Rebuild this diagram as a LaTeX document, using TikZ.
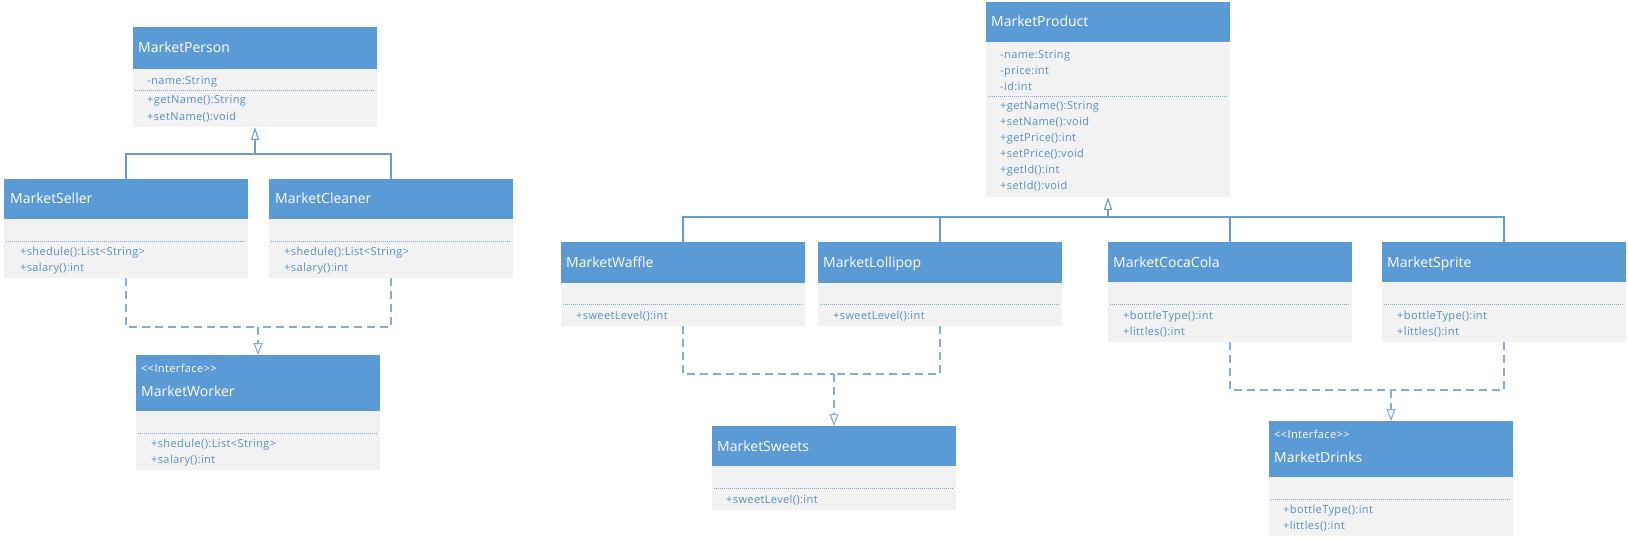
\documentclass[tikz,border=0pt]{standalone}
\usepackage{fontspec}
\setmainfont{Open Sans}
\newfontfamily\memfont[LetterSpace=3.5]{Open Sans}
\usetikzlibrary{arrows.meta}
\definecolor{hdrblue}{HTML}{5B9BD5}
\definecolor{bodygray}{HTML}{F2F2F2}
\definecolor{txtblue}{HTML}{5A8CC6}
\definecolor{lineblue}{HTML}{6A9ACB}
\definecolor{dashblue}{HTML}{86ABD5}
\definecolor{dotblue}{HTML}{7FA6D3}
\tikzset{
  hdr/.style={fill=hdrblue, draw=none, inner sep=0pt, outer sep=0pt, minimum width=244},
  bodyb/.style={fill=bodygray, draw=none, inner sep=0pt, outer sep=0pt, minimum width=244},
  ttl/.style={anchor=base west, inner sep=0pt, text=white, font=\fontsize{14}{16}\selectfont},
  stereo/.style={anchor=base west, inner sep=0pt, text=white, font=\memfont\fontsize{11}{13}\selectfont},
  mem/.style={anchor=base west, inner sep=0pt, text=txtblue, font=\memfont\fontsize{11}{13}\selectfont},
  dotline/.style={draw=dotblue, line width=0.7pt, dash pattern=on 1pt off 1pt},
  genline/.style={draw=lineblue, line width=1.2pt},
  genarrow/.style={genline, -{Triangle[open, length=13pt, width=8pt, line width=1.1pt]}},
  realline/.style={draw=dashblue, line width=1.4pt, dash pattern=on 8pt off 5pt},
  realarrow/.style={realline, -{Triangle[open, length=12pt, width=9pt, line width=1.1pt]}}
}
\newcommand\umlbox[5]{%
  \node[hdr, anchor=north west, minimum height={#4-#3}] (#1h) at (#2,#3) {};
  \node[bodyb, anchor=north west, minimum height={#5-#4}] (#1b) at (#1h.south west) {};
}
\begin{document}
\begin{tikzpicture}[x=1pt,y=-1pt]
\useasboundingbox (0,0) rectangle (1628,540);

% ---------------- left group ----------------
\umlbox{person}{133}{27}{69}{127}
\node[ttl] (personT) at (138,53) {MarketPerson};
\node[mem] (personA1) at (147,85) {-name:String};
\draw[dotline] (135,90) -- (375,90);
\node[mem] (personM1) at (147,104) {+getName():String};
\node[mem] (personM2) at (147,121) {+setName():void};

\umlbox{seller}{4}{179}{219}{278}
\node[ttl] (sellerT) at (10,204) {MarketSeller};
\draw[dotline] (6,241) -- (246,241);
\node[mem] (sellerM1) at (20,255) {+shedule():List{<}String{>}};
\node[mem] (sellerM2) at (20,271) {+salary():int};

\umlbox{cleaner}{269}{179}{219}{278}
\node[ttl] (cleanerT) at (275,204) {MarketCleaner};
\draw[dotline] (271,241) -- (511,241);
\node[mem] (cleanerM1) at (284,255) {+shedule():List{<}String{>}};
\node[mem] (cleanerM2) at (284,271) {+salary():int};

\umlbox{worker}{136}{355}{411}{470}
\node[stereo] (workerS) at (141,372) {{<}{<}Interface{>}{>}};
\node[ttl] (workerT) at (141,396) {MarketWorker};
\draw[dotline] (138,433) -- (378,433);
\node[mem] (workerM1) at (151,447) {+shedule():List{<}String{>}};
\node[mem] (workerM2) at (151,463) {+salary():int};

\coordinate (pj) at (255,154);
\draw[genline] (sellerh.north) |- (pj);
\draw[genline] (cleanerh.north) |- (pj);
\draw[genarrow] (pj) -- (personb.south);

\coordinate (wj) at (258,327);
\draw[realline] (sellerb.south) |- (wj);
\draw[realline] (cleanerb.south) |- (wj);
\draw[realarrow] (wj) -- (workerh.north);

% ---------------- product group ----------------
\umlbox{product}{986}{2}{42}{197}
\node[ttl] (productT) at (991,27) {MarketProduct};
\node[mem] (productA1) at (1000,59) {-name:String};
\node[mem] (productA2) at (1000,75) {-price:int};
\node[mem] (productA3) at (1000,91) {-id:int};
\draw[dotline] (988,96) -- (1228,96);
\node[mem] (productM1) at (1000,110) {+getName():String};
\node[mem] (productM2) at (1000,126) {+setName():void};
\node[mem] (productM3) at (1000,142) {+getPrice():int};
\node[mem] (productM4) at (1000,158) {+setPrice():void};
\node[mem] (productM5) at (1000,174) {+getId():int};
\node[mem] (productM6) at (1000,190) {+setId():void};

\umlbox{waffle}{561}{242}{283}{326}
\node[ttl] (waffleT) at (566,267) {MarketWaffle};
\draw[dotline] (563,304) -- (803,304);
\node[mem] (waffleM1) at (576,319) {+sweetLevel():int};

\umlbox{lolli}{818}{242}{283}{326}
\node[ttl] (lolliT) at (823,267) {MarketLollipop};
\draw[dotline] (820,304) -- (1060,304);
\node[mem] (lolliM1) at (833,319) {+sweetLevel():int};

\umlbox{coca}{1108}{242}{282}{342}
\node[ttl] (cocaT) at (1113,267) {MarketCocaCola};
\draw[dotline] (1110,304) -- (1350,304);
\node[mem] (cocaM1) at (1123,319) {+bottleType():int};
\node[mem] (cocaM2) at (1123,335) {+littles():int};

\umlbox{sprite}{1382}{242}{282}{342}
\node[ttl] (spriteT) at (1387,267) {MarketSprite};
\draw[dotline] (1384,304) -- (1624,304);
\node[mem] (spriteM1) at (1397,319) {+bottleType():int};
\node[mem] (spriteM2) at (1397,335) {+littles():int};

\umlbox{sweets}{712}{426}{466}{510}
\node[ttl] (sweetsT) at (717,451) {MarketSweets};
\draw[dotline] (714,488) -- (954,488);
\node[mem] (sweetsM1) at (726,503) {+sweetLevel():int};

\umlbox{drinks}{1269}{421}{477}{536}
\node[stereo] (drinksS) at (1274,438) {{<}{<}Interface{>}{>}};
\node[ttl] (drinksT) at (1274,462) {MarketDrinks};
\draw[dotline] (1271,499) -- (1511,499);
\node[mem] (drinksM1) at (1283,513) {+bottleType():int};
\node[mem] (drinksM2) at (1283,529) {+littles():int};

\coordinate (qj) at (1108,217);
\draw[genline] (waffleh.north) |- (qj);
\draw[genline] (lollih.north) |- (qj);
\draw[genline] (cocah.north) |- (qj);
\draw[genline] (spriteh.north) |- (qj);
\draw[genarrow] (qj) -- (productb.south);

\coordinate (sj) at (834,374);
\draw[realline] (waffleb.south) |- (sj);
\draw[realline] (lollib.south) |- (sj);
\draw[realarrow] (sj) -- (sweetsh.north);

\coordinate (dj) at (1391,390);
\draw[realline] (cocab.south) |- (dj);
\draw[realline] (spriteb.south) |- (dj);
\draw[realarrow] (dj) -- (drinksh.north);
\end{tikzpicture}
\end{document}
